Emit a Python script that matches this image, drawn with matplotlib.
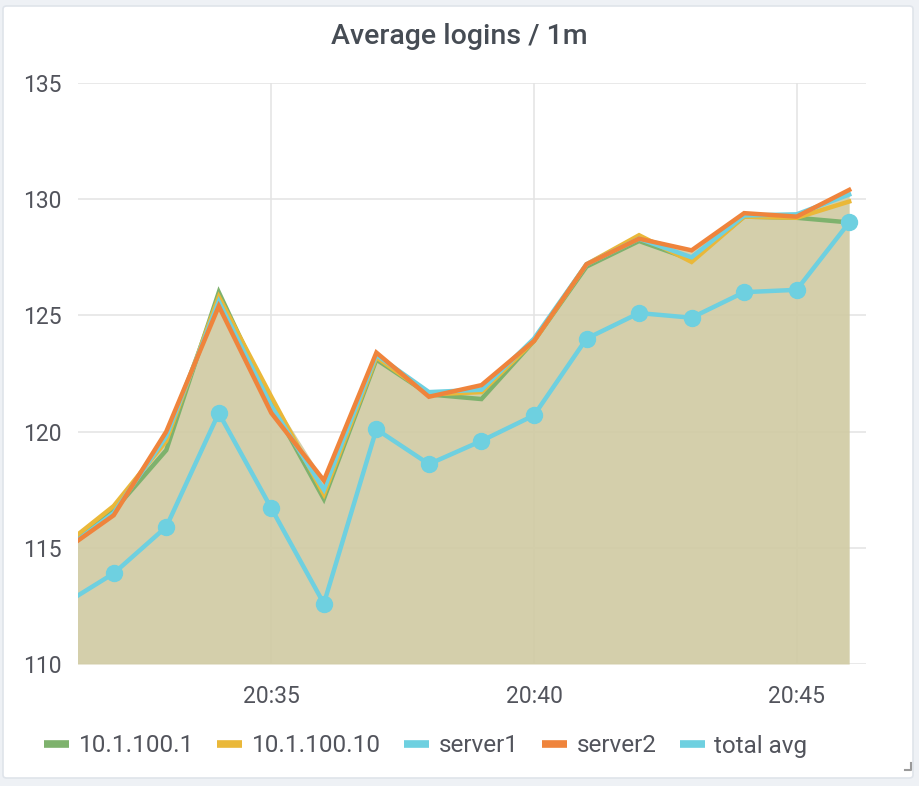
import matplotlib
matplotlib.use("Agg")
import matplotlib.pyplot as plt
from matplotlib.patches import FancyBboxPatch
from matplotlib.lines import Line2D
import numpy as np

plt.rcParams['font.family'] = ['Roboto', 'DejaVu Sans']

# data (one point per minute)
times = ["20:31", "20:32", "20:33", "20:34", "20:35", "20:36", "20:37", "20:38",
         "20:39", "20:40", "20:41", "20:42", "20:43", "20:44", "20:45", "20:46"]
host_1 = [114.8, 116.6, 119.2, 126.0, 121.2, 117.1, 123.1, 121.6,
          121.4, 123.9, 127.1, 128.2, 127.4, 129.25, 129.2, 129.0]
host_10 = [115.0, 116.8, 119.6, 125.8, 121.5, 117.3, 123.2, 121.6,
           121.7, 123.9, 127.2, 128.45, 127.3, 129.25, 129.2, 129.9]
server1 = [114.8, 116.5, 119.8, 125.6, 121.1, 117.5, 123.3, 121.7,
           121.8, 124.0, 127.2, 128.3, 127.5, 129.3, 129.35, 130.2]
server2 = [114.8, 116.4, 120.0, 125.4, 120.8, 117.9, 123.4, 121.5,
           122.0, 123.9, 127.2, 128.3, 127.8, 129.4, 129.25, 130.4]
total_avg = [112.5, 113.9, 115.9, 120.8, 116.7, 112.6, 120.1, 118.6,
             119.6, 120.7, 124.0, 125.1, 124.9, 126.0, 126.1, 129.0]

labels = ["10.1.100.1", "10.1.100.10", "server1", "server2", "total avg"]
colors = ["#7eb26d", "#eab839", "#6ed0e0", "#ef843c", "#6ed0e0"]
x_ticks = ["20:35", "20:40", "20:45"]
y_ticks = [110, 115, 120, 125, 130, 135]


def to_min(t):
    h, m = t.split(":")
    return (int(h) - 20) * 60 + int(m)


x = np.array([to_min(t) for t in times], dtype=float)

fig = plt.figure(figsize=(9.19, 7.86), dpi=100, facecolor="#eef1f5")

# panel background
W, H = 919, 786
panel = FancyBboxPatch((3 / W, 8 / H), 910 / W, 772 / H,
                       boxstyle="round,pad=0,rounding_size=0.004",
                       transform=fig.transFigure, facecolor="white",
                       edgecolor="#dfe4ea", linewidth=1.2, zorder=-5)
fig.patches.append(panel)

ax = fig.add_axes([78 / W, 1 - 664 / H, 788 / W, 581 / H])
ax.set_zorder(2)
ax.set_facecolor("none")

series = [host_1, host_10, server1, server2]
top = np.max(np.array(series), axis=0)
ax.fill_between(x, 110, top, color="#d1cba4", alpha=0.92, linewidth=0, zorder=2)

for vals, lab, col in zip(series, labels[:4], colors[:4]):
    ax.plot(x, vals, color=col, lw=3.2, solid_joinstyle="miter", zorder=3, label=lab)

ax.plot(x, total_avg, color=colors[4], lw=3.2, marker="o", markersize=11.5,
        zorder=4, label=labels[4])

ax.set_xlim(to_min("20:31") + 0.32, to_min("20:46") + 0.32)
ax.set_ylim(110, 135)
ax.set_xticks([to_min(t) for t in x_ticks])
ax.set_xticklabels(x_ticks)
ax.set_yticks(y_ticks)
ax.grid(True, color="#e3e3e3", lw=1.1, zorder=1)
ax.set_axisbelow(True)
for s in ax.spines.values():
    s.set_visible(False)
ax.tick_params(length=0, labelsize=16.5, colors="#52545c")
ax.tick_params(axis="y", pad=12)
ax.tick_params(axis="x", pad=15)

fig.text(0.5, 1 - 37 / H, "Average logins / 1m", ha="center", va="center",
         fontsize=20.5, color="#464c54", fontweight="medium")

handles = [Line2D([], [], color=c, lw=5.5, solid_capstyle="butt") for c in colors]
fig.legend(handles, labels, loc="center left", bbox_to_anchor=(22 / W, 1 - 746 / H),
           ncol=5, frameon=False, fontsize=17.5, handlelength=1.03, handletextpad=0.4,
           columnspacing=0.95, labelcolor="#52545c")

# resize handle in the corner
fig.add_artist(Line2D([905 / W, 911 / W, 911 / W], [1 - 770 / H, 1 - 770 / H, 1 - 763 / H],
                      color="#9a9a9a", lw=1.5, transform=fig.transFigure))

fig.savefig("out.png", dpi=100, facecolor=fig.get_facecolor())
